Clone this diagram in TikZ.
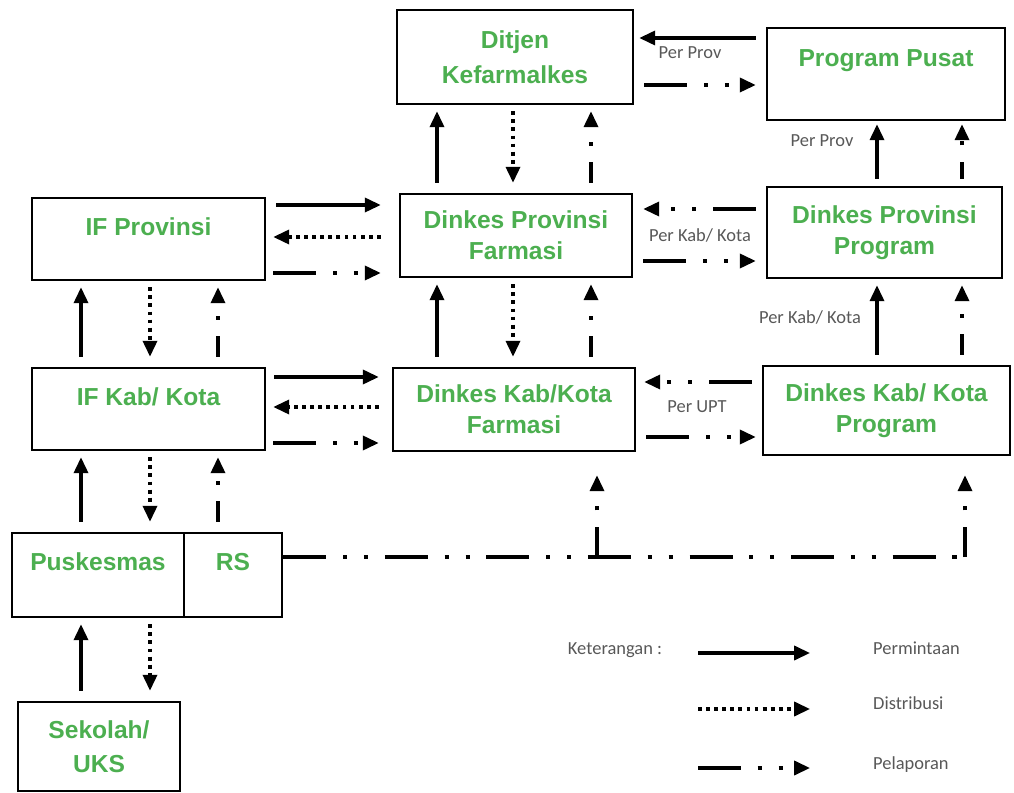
\documentclass[tikz,border=0pt]{standalone}
\usepackage{fontspec}
\setmainfont{Liberation Sans}
\newfontfamily\lblfont{Carlito}
\usetikzlibrary{arrows.meta,positioning,calc}
\definecolor{boxgreen}{HTML}{4CAF50}
\definecolor{lblgray}{HTML}{585858}

\tikzset{
  box/.style={draw,line width=1.5pt,inner sep=2pt,align=center,text=boxgreen,
    font=\bfseries\fontsize{14}{17.6}\selectfont},
  onetop/.style={text depth=0.48cm},
  req/.style={line width=1.8pt,-{Triangle[length=9pt,width=8pt]}},
  dist/.style={req,dash pattern=on 2.2pt off 2.4pt},
  report/.style={req,dash pattern=on 24.5pt off 9.5pt on 2.4pt off 9.5pt on 2.4pt off 9.5pt},
  reportv/.style={report,dash phase=13pt},
  gapup/.style={shorten <=0.2cm,shorten >=0.12cm},
  gapdown/.style={shorten <=0.12cm,shorten >=0.2cm},
  gapside/.style={shorten <=0.2cm,shorten >=0.2cm},
  smalltag/.style={font=\lblfont\fontsize{10.5}{12}\selectfont,text=lblgray},
}

\begin{document}
\begin{tikzpicture}[x=0.02cm,y=-0.02cm]
\useasboundingbox (0,0) rectangle (1014,793);

% boxes
\node[box,minimum width=4.72cm,minimum height=1.88cm] (dj) at (515,57) {Ditjen\\[2.4pt]Kefarmalkes};
\node[box,onetop,text depth=0.62cm,minimum width=4.76cm,minimum height=1.84cm] (pp) at (886,74) {Program Pusat};
\node[box,onetop,minimum width=4.66cm,minimum height=1.64cm] (ifp) at (148.5,239) {IF Provinsi};
\node[box,minimum width=4.64cm,minimum height=1.66cm] (dpf) at (516,235.5) {Dinkes Provinsi\\Farmasi};
\node[box,minimum width=4.7cm,minimum height=1.82cm] (dpp) at (884.5,232.5) {Dinkes Provinsi\\Program};
\node[box,onetop,minimum width=4.66cm,minimum height=1.64cm] (ifk) at (148.5,409) {IF Kab/ Kota};
\node[box,minimum width=4.84cm,minimum height=1.66cm] (dkf) at (514,409.5) {Dinkes Kab/Kota\\Farmasi};
\node[box,minimum width=4.94cm,minimum height=1.78cm] (dkp) at (886.5,410.5) {Dinkes Kab/ Kota\\Program};
\node[box,onetop,text depth=0.52cm,minimum width=3.44cm,minimum height=1.68cm] (pk) at (98,575) {Puskesmas};
\node[box,onetop,text depth=0.52cm,minimum width=1.96cm,minimum height=1.68cm] (rs) at (233,575) {RS};
\node[box,minimum width=3.24cm,minimum height=1.78cm] (sk) at (99,746.5) {Sekolah/\\[1.5pt]UKS};

% Ditjen - Program Pusat
\draw[req,gapside,shorten >=0.1cm] (pp.west |- 0,38) -- (dj.east |- 0,38);
\node[smalltag] (t1) at (690,53) {Per Prov};
\draw[report,gapside] (dj.east |- 0,85) -- (pp.west |- 0,85);

% Ditjen - Dinkes Provinsi Farmasi
\draw[req,gapup] (437,0 |- dpf.north) -- (437,0 |- dj.south);
\draw[dist,gapdown] (513,0 |- dj.south) -- (513,0 |- dpf.north);
\draw[reportv,gapup] (591,0 |- dpf.north) -- (591,0 |- dj.south);

% Program Pusat - Dinkes Provinsi Program
\draw[req,shorten <=0.14cm,shorten >=0.06cm] (877,0 |- dpp.north) -- (877,0 |- pp.south);
\draw[reportv,dash phase=15pt,shorten <=0.14cm,shorten >=0.06cm] (962,0 |- dpp.north) -- (962,0 |- pp.south);
\node[smalltag] (t2) at (822,141) {Per Prov};

% IF Provinsi - Dinkes Provinsi Farmasi
\draw[req,shorten <=0.2cm,shorten >=0.36cm] (ifp.east |- 0,205) -- (dpf.west |- 0,205);
\draw[dist,shorten <=0.36cm,shorten >=0.14cm] (dpf.west |- 0,237) -- (ifp.east |- 0,237);
\draw[report,shorten <=0.14cm,shorten >=0.36cm] (ifp.east |- 0,273) -- (dpf.west |- 0,273);

% Dinkes Provinsi Farmasi - Dinkes Provinsi Program
\draw[report,gapside] (dpp.west |- 0,209) -- (dpf.east |- 0,209);
\node[smalltag] (t3) at (700,235) {Per Kab/ Kota};
\draw[report,gapside] (dpf.east |- 0,261) -- (dpp.west |- 0,261);

% IF Provinsi - IF Kab/Kota
\draw[req,gapup] (81,0 |- ifk.north) -- (81,0 |- ifp.south);
\draw[dist,gapdown] (150,0 |- ifp.south) -- (150,0 |- ifk.north);
\draw[reportv,gapup] (218,0 |- ifk.north) -- (218,0 |- ifp.south);

% Dinkes Provinsi Farmasi - Dinkes Kab/Kota Farmasi
\draw[req,gapup] (437,0 |- dkf.north) -- (437,0 |- dpf.south);
\draw[dist,gapdown] (513,0 |- dpf.south) -- (513,0 |- dkf.north);
\draw[reportv,gapup] (591,0 |- dkf.north) -- (591,0 |- dpf.south);

% Dinkes Provinsi Program - Dinkes Kab/Kota Program
\draw[req,gapup] (877,0 |- dkp.north) -- (877,0 |- dpp.south);
\draw[reportv,gapup] (962,0 |- dkp.north) -- (962,0 |- dpp.south);
\node[smalltag] (t4) at (810,317) {Per Kab/ Kota};

% IF Kab/Kota - Dinkes Kab/Kota Farmasi
\draw[req,shorten <=0.16cm,shorten >=0.26cm] (ifk.east |- 0,377) -- (dkf.west |- 0,377);
\draw[dist,shorten <=0.26cm,shorten >=0.14cm] (dkf.west |- 0,407) -- (ifk.east |- 0,407);
\draw[report,shorten <=0.14cm,shorten >=0.26cm] (ifk.east |- 0,443) -- (dkf.west |- 0,443);

% Dinkes Kab/Kota Farmasi - Dinkes Kab/Kota Program
\draw[report,gapside,shorten >=0.16cm] (dkp.west |- 0,382) -- (dkf.east |- 0,382);
\node[smalltag] (t5) at (697,407) {Per UPT};
\draw[report,gapside,shorten >=0.12cm] (dkf.east |- 0,437) -- (dkp.west |- 0,437);

% IF Kab/Kota - Puskesmas / RS
\draw[req,gapup] (81,0 |- pk.north) -- (81,0 |- ifk.south);
\draw[dist,gapdown] (150,0 |- ifk.south) -- (150,0 |- pk.north);
\draw[reportv,gapup] (218,0 |- rs.north) -- (218,0 |- ifk.south);

% Puskesmas - Sekolah/UKS
\draw[req,gapup] (81,0 |- sk.north) -- (81,0 |- pk.south);
\draw[dist,gapdown] (150,0 |- pk.south) -- (150,0 |- sk.north);

% RS reporting line
\coordinate (jf) at (597,557);
\coordinate (jp) at (965,557);
\draw[report,-] (rs.east |- jf) -- (jp);
\draw[report,dash phase=7.4pt,shorten >=0.46cm] (jf) -- (dkf.south -| jf);
\draw[report,dash phase=7.4pt,shorten >=0.38cm] (jp) -- (dkp.south -| jp);

% legend
\node[smalltag] (ket) at (615,650) {Keterangan :};
\coordinate (l1a) at (698,653);
\coordinate (l1b) at (810,653);
\coordinate (l2a) at (698,709);
\coordinate (l2b) at (810,709);
\coordinate (l3a) at (698,768);
\coordinate (l3b) at (810,768);
\draw[req] (l1a) -- (l1b);
\draw[dist] (l2a) -- (l2b);
\draw[report] (l3a) -- (l3b);
\node[smalltag,anchor=west] (lg1) at (867,648) {Permintaan};
\node[smalltag,anchor=west] (lg2) at (867,703) {Distribusi};
\node[smalltag,anchor=west] (lg3) at (867,765) {Pelaporan};
\end{tikzpicture}
\end{document}
